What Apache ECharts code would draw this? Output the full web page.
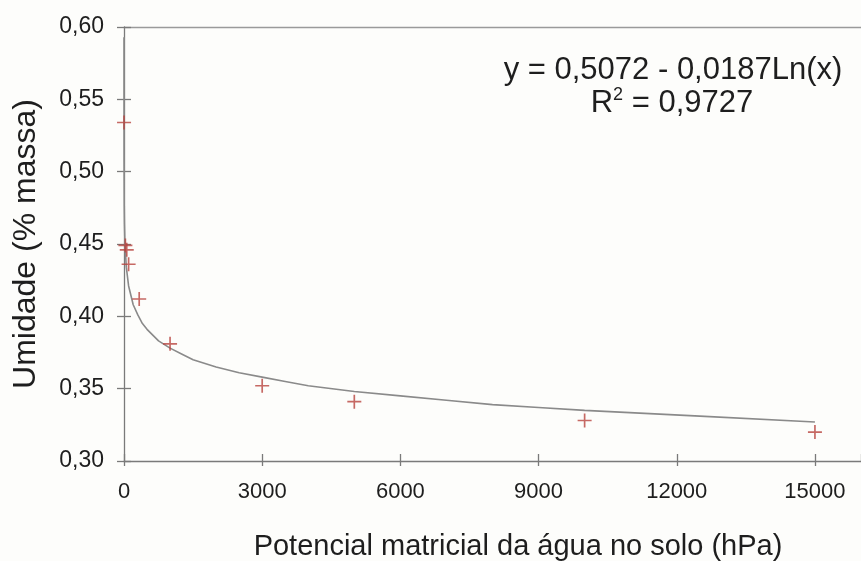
<!DOCTYPE html>
<html>
<head>
<meta charset="utf-8">
<script src="https://cdn.jsdelivr.net/npm/echarts@6/dist/echarts.min.js"></script>
<style>
  html, body { margin: 0; padding: 0; background: #fdfdfb; }
  #chart { width: 861px; height: 561px; }
</style>
</head>
<body>
<div id="chart"></div>
<script>
// Measured soil moisture (mass basis) vs. matric potential (hPa)
const potential = [1, 30, 60, 100, 330, 1000, 3000, 5000, 10000, 15000];
const moisture  = [0.534, 0.449, 0.446, 0.436, 0.412, 0.381, 0.352, 0.341, 0.328, 0.320];

// Logarithmic fit curve, sampled along its path
const fitX = [0.01, 0.1, 1, 5, 10, 20, 50, 100, 200, 300, 400, 500, 750, 1000, 1250, 1500, 2000, 2500, 3000, 3500, 4000, 5000, 6000, 7000, 8000, 9000, 10000, 12500, 15000];
const fitY = [0.593, 0.550, 0.507, 0.477, 0.464, 0.451, 0.434, 0.421, 0.408, 0.401, 0.395, 0.391, 0.383, 0.378, 0.374, 0.370, 0.365, 0.361, 0.358, 0.355, 0.352, 0.348, 0.345, 0.342, 0.339, 0.337, 0.335, 0.331, 0.327];

const yTicks = { min: 0.30, max: 0.60, step: 0.05 };
const xTicks = { min: 0, max: 16000, step: 3000 };

const eqLine = 'y = 0,5072 - 0,0187Ln(x)';
const r2Value = '0,9727';

const FONT = '"Liberation Sans", Arial, sans-serif';
const TEXT = '#1e1e1e';
const AXIS = '#7a7a7a';

const chart = echarts.init(document.getElementById('chart'), null, { renderer: 'canvas' });

const baseX = {
  type: 'value', min: xTicks.min, max: xTicks.max, interval: xTicks.step,
  splitLine: { show: false }
};
const baseY = {
  type: 'value', min: yTicks.min, max: yTicks.max, interval: yTicks.step,
  splitLine: { show: false }
};

chart.setOption({
  backgroundColor: '#fdfdfb',
  animation: false,
  grid: { left: 124, top: 27, width: 739, height: 434, containLabel: false },
  xAxis: [
    Object.assign({}, baseX, {
      position: 'bottom',
      axisLine: { show: true, lineStyle: { color: AXIS, width: 1.3 } },
      axisTick: { show: true, length: 5, lineStyle: { color: AXIS, width: 1.3 } },
      axisLabel: {
        show: true, margin: 20, color: TEXT, fontFamily: FONT, fontSize: 22,
        showMaxLabel: false,
        formatter: v => (v > 15000 ? '' : String(v))
      }
    }),
    Object.assign({}, baseX, {
      position: 'bottom',
      axisLine: { show: false },
      axisTick: { show: true, inside: true, length: 7, lineStyle: { color: AXIS, width: 1.3 } },
      axisLabel: { show: false }
    }),
    Object.assign({}, baseX, {
      position: 'top',
      axisLine: { show: true, lineStyle: { color: '#9a9a9a', width: 1.3 } },
      axisTick: { show: false },
      axisLabel: { show: false }
    })
  ],
  yAxis: [
    Object.assign({}, baseY, {
      position: 'left',
      name: 'Umidade (% massa)',
      nameLocation: 'middle',
      nameGap: 82,
      nameTextStyle: { color: TEXT, fontFamily: FONT, fontSize: 32 },
      axisLine: { show: true, lineStyle: { color: AXIS, width: 1.3 } },
      axisTick: { show: true, length: 7, lineStyle: { color: AXIS, width: 1.3 } },
      axisLabel: {
        show: true, margin: 20, color: TEXT, fontFamily: FONT, fontSize: 23,
        formatter: v => v.toFixed(2).replace('.', ',')
      }
    }),
    Object.assign({}, baseY, {
      position: 'left',
      axisLine: { show: false },
      axisTick: { show: true, inside: true, length: 7, lineStyle: { color: AXIS, width: 1.3 } },
      axisLabel: { show: false }
    })
  ],
  series: [
    {
      name: 'ajuste',
      type: 'line',
      xAxisIndex: 0, yAxisIndex: 0,
      data: fitX.map((x, i) => [x, fitY[i]]),
      showSymbol: false,
      smooth: false,
      lineStyle: { color: '#8a8a8a', width: 1.6 },
      z: 2
    },
    {
      name: 'observado',
      type: 'scatter',
      xAxisIndex: 0, yAxisIndex: 0,
      data: potential.map((x, i) => [x, moisture[i]]),
      symbol: 'path://M0,4.4H10V5.6H0Z M4.4,0H5.6V10H4.4Z',
      symbolSize: 14,
      itemStyle: { color: '#b8443e' },
      z: 3
    }
  ],
  graphic: [
    {
      type: 'text',
      x: 673, y: 70,
      style: {
        text: eqLine, fill: TEXT, font: '31px ' + FONT,
        align: 'center', verticalAlign: 'middle'
      }
    },
    {
      type: 'text',
      x: 672, y: 103,
      style: {
        text: '{r|R}{s|2}{r| = ' + r2Value + '}',
        align: 'center', verticalAlign: 'middle',
        rich: {
          r: { fill: TEXT, fontFamily: FONT, fontSize: 31 },
          s: { fill: TEXT, fontFamily: FONT, fontSize: 18, verticalAlign: 'top', padding: [0, 0, 16, 0] }
        }
      }
    },
    {
      type: 'text',
      x: 518, y: 547,
      style: {
        text: 'Potencial matricial da água no solo (hPa)', fill: TEXT,
        font: '29px ' + FONT, align: 'center', verticalAlign: 'middle'
      }
    }
  ]
});
</script>
</body>
</html>
